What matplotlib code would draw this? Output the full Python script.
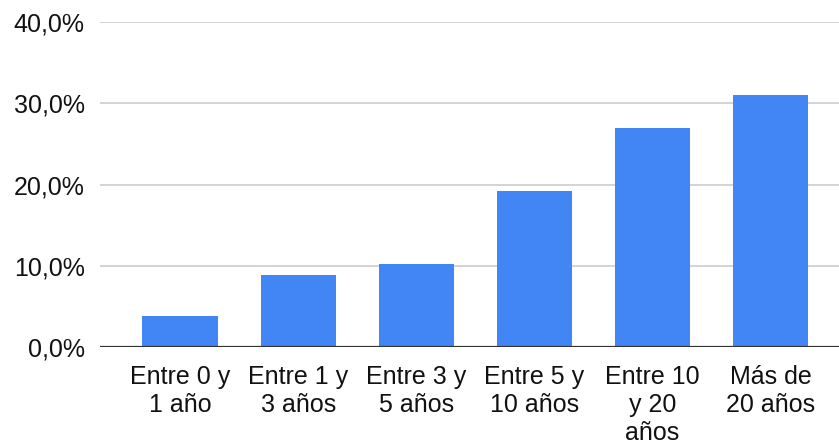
import matplotlib
matplotlib.use('Agg')
import matplotlib.pyplot as plt

# datos
categorias = ['Entre 0 y\n1 año', 'Entre 1 y\n3 años', 'Entre 3 y\n5 años',
              'Entre 5 y\n10 años', 'Entre 10\ny 20\naños', 'Más de\n20 años']
porcentajes = [3.8, 8.9, 10.2, 19.25, 27.0, 31.0]
yticks = [0, 10, 20, 30, 40]
ylabels = ['0,0%', '10,0%', '20,0%', '30,0%', '40,0%']

plt.rcParams['font.family'] = ['Liberation Sans', 'DejaVu Sans']

fig = plt.figure(figsize=(8.39, 4.45), dpi=100)
ax = fig.add_axes([100 / 839, (445 - 347) / 445, 739 / 839, 325 / 445])

x = list(range(len(categorias)))
ax.bar(x, porcentajes, width=0.64, color='#4285F4', zorder=3)

ax.set_xlim(-0.68, 5.58)
ax.set_ylim(0, 40)
ax.set_yticks(yticks)
ax.set_yticklabels(ylabels)
ax.set_xticks(x)
ax.set_xticklabels(categorias, linespacing=1.2, va='top')

ax.grid(axis='y', color='#cccccc', linewidth=1.2, zorder=0)
ax.axhline(0, color='#333333', linewidth=1.6, zorder=4)
for s in ax.spines.values():
    s.set_visible(False)
ax.tick_params(axis='both', length=0, labelsize=18, colors='#111111')
ax.tick_params(axis='y', pad=11)
ax.tick_params(axis='x', pad=13)

fig.savefig('out.png', dpi=100)
